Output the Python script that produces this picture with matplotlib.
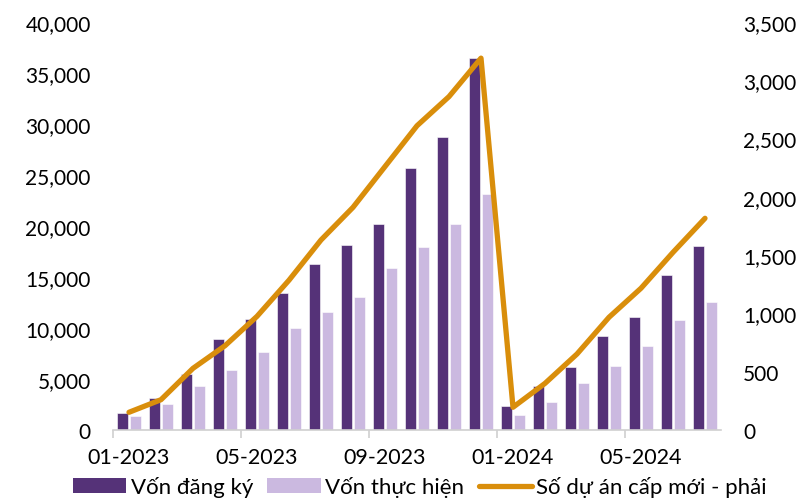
import matplotlib
matplotlib.use("Agg")
import matplotlib.pyplot as plt
from matplotlib.ticker import FuncFormatter, FixedLocator
from matplotlib.lines import Line2D
from matplotlib.patches import Patch

plt.rcParams['font.family'] = ['Lato', 'DejaVu Sans']

# Monthly data, 01-2023 .. 07-2024 (cumulative year-to-date)
months = ["01-2023", "02-2023", "03-2023", "04-2023", "05-2023", "06-2023",
          "07-2023", "08-2023", "09-2023", "10-2023", "11-2023", "12-2023",
          "01-2024", "02-2024", "03-2024", "04-2024", "05-2024", "06-2024",
          "07-2024"]
von_dang_ky = [1700, 3100, 5460, 8890, 10850, 13400, 16240, 18140, 20180,
               25690, 28770, 36500, 2380, 4290, 6160, 9250, 11050, 15150, 18000]
von_thuc_hien = [1370, 2550, 4350, 5850, 7650, 10000, 11600, 13070, 15850,
                 17960, 20200, 23120, 1480, 2780, 4640, 6270, 8240, 10810, 12540]
so_du_an = [152, 260, 529, 723, 975, 1285, 1630, 1910, 2260, 2610, 2860,
            3190, 195, 400, 652, 967, 1216, 1524, 1816]
tick_labels = ["01-2023", "05-2023", "09-2023", "01-2024", "05-2024"]

DARK = "#553278"
LIGHT = "#CBB9E0"
ORANGE = "#D98E0B"
FS = 15

fig = plt.figure(figsize=(8.0, 5.02), dpi=100)
ax = fig.add_axes([113 / 800, 1 - 431 / 502, (721 - 113) / 800, (431 - 23) / 502])
ax2 = ax.twinx()

x = list(range(len(months)))
bw = 0.36
ax.bar([i - 0.21 for i in x], von_dang_ky, width=bw, color=DARK,
       edgecolor="white", linewidth=0.4, zorder=2)
ax.bar([i + 0.21 for i in x], von_thuc_hien, width=bw, color=LIGHT,
       edgecolor="white", linewidth=0.4, zorder=2)
ax2.plot(x, so_du_an, color=ORANGE, linewidth=3.8, solid_capstyle="round",
         solid_joinstyle="round", zorder=3)

ax.set_xlim(-0.5, len(months) - 0.5)
ax.set_ylim(0, 40000)
ax.set_yticks(range(0, 40001, 5000))
ax.yaxis.set_major_formatter(FuncFormatter(lambda v, p: f"{int(v):,}"))
ax2.set_ylim(0, 3500)
ax2.set_yticks(range(0, 3501, 500))
ax2.yaxis.set_major_formatter(FuncFormatter(lambda v, p: f"{int(v):,}"))

label_pos = [months.index(m) for m in tick_labels]
ax.set_xticks(label_pos)
ax.set_xticklabels(tick_labels)
ax.xaxis.set_minor_locator(FixedLocator([p - 0.5 for p in label_pos]))
ax.tick_params(axis="x", which="major", length=0, pad=12, labelsize=FS + 0.5)
ax.tick_params(axis="x", which="minor", length=6, width=1.2, color="#D0D0D0")
ax.tick_params(axis="y", length=0, pad=16, labelsize=FS)
ax2.tick_params(axis="y", length=0, pad=16, labelsize=FS)

for a in (ax, ax2):
    for s in ("top", "left", "right"):
        a.spines[s].set_visible(False)
ax2.spines["bottom"].set_visible(False)
ax.spines["bottom"].set_color("#D0D0D0")
ax.spines["bottom"].set_linewidth(1.2)

handles = [Patch(facecolor=DARK, edgecolor="none"),
           Patch(facecolor=LIGHT, edgecolor="none"),
           Line2D([0], [0], color=ORANGE, linewidth=3.8, solid_capstyle="round")]
labels = ["Vốn đăng ký", "Vốn thực hiện", "Số dự án cấp mới - phải"]
fig.legend(handles, labels, loc="center", bbox_to_anchor=(420 / 800, 1 - 488 / 502),
           ncol=3, frameon=False, fontsize=16, handlelength=2.4,
           handleheight=0.65, handletextpad=0.2, columnspacing=0.65,
           borderpad=0, borderaxespad=0)

fig.savefig("out.png", dpi=100)
